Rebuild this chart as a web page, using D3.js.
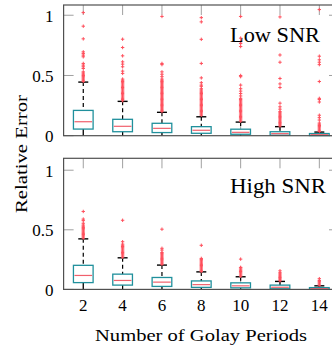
<!DOCTYPE html>
<html>
<head>
<meta charset="utf-8">
<script src="https://cdn.jsdelivr.net/npm/d3@7"></script>
<style>
  body { margin: 0; background: #fff; }
  svg text { font-family: "Liberation Serif" !important; }
</style>
</head>
<body>
<svg width="332" height="352" font-family="Liberation Serif"></svg>
<script>
// x categories (number of Golay periods)
const periods = [2, 4, 6, 8, 10, 12, 14];
const yTicks = [0, 0.5, 1];

// Low SNR box statistics
const lowQ1  = [0.055, 0.033, 0.026, 0.020, 0.012, 0.004, 0.001];
const lowMed = [0.116, 0.078, 0.061, 0.045, 0.028, 0.017, 0.008];
const lowQ3  = [0.210, 0.136, 0.103, 0.075, 0.054, 0.033, 0.018];
const lowHi  = [0.445, 0.285, 0.194, 0.157, 0.113, 0.075, 0.030];
const lowLo  = [0, 0, 0, 0, 0, 0, 0];
const lowOut = [
  [0.45, 0.46, 0.47, 0.48, 0.49, 0.50, 0.51, 0.52, 0.53, 0.558, 0.572, 0.586, 0.60, 0.655, 0.669, 0.683, 0.696, 0.804, 0.909, 1.022],
  [0.29, 0.30, 0.31, 0.32, 0.33, 0.34, 0.35, 0.36, 0.37, 0.38, 0.39, 0.40, 0.41, 0.42, 0.43, 0.44, 0.45, 0.46, 0.47, 0.517, 0.536, 0.572, 0.594, 0.613, 0.663, 0.732, 0.801],
  [0.20, 0.21, 0.22, 0.23, 0.24, 0.25, 0.26, 0.27, 0.28, 0.29, 0.30, 0.31, 0.32, 0.33, 0.34, 0.35, 0.36, 0.37, 0.38, 0.39, 0.40, 0.41, 0.42, 0.43, 0.44, 0.45, 0.46, 0.47, 0.49, 0.51, 0.53, 0.59, 0.60, 0.99],
  [0.17, 0.18, 0.19, 0.20, 0.21, 0.22, 0.23, 0.24, 0.25, 0.26, 0.27, 0.28, 0.29, 0.30, 0.31, 0.32, 0.33, 0.34, 0.35, 0.36, 0.37, 0.38, 0.39, 0.41, 0.42, 0.44, 0.48, 0.60, 0.80, 0.945, 0.98],
  [0.12, 0.13, 0.14, 0.15, 0.16, 0.17, 0.18, 0.19, 0.20, 0.21, 0.22, 0.23, 0.24, 0.25, 0.26, 0.27, 0.28, 0.29, 0.30, 0.31, 0.33, 0.35, 0.37, 0.39, 0.42, 0.49, 0.50, 0.74, 0.765, 0.78, 0.81, 0.99],
  [0.08, 0.09, 0.10, 0.11, 0.12, 0.13, 0.14, 0.15, 0.16, 0.17, 0.18, 0.19, 0.20, 0.22, 0.24, 0.27, 0.40, 0.43, 0.475, 0.61, 0.67, 0.986],
  [0.035, 0.045, 0.055, 0.065, 0.075, 0.085, 0.095, 0.105, 0.13, 0.15, 0.17, 0.28, 0.30, 0.31, 0.45, 0.59, 0.61, 0.63, 0.66, 1.047]
];

// High SNR box statistics
const highQ1  = [0.057, 0.036, 0.025, 0.017, 0.013, 0.005, 0.001];
const highMed = [0.117, 0.075, 0.061, 0.040, 0.030, 0.018, 0.006];
const highQ3  = [0.202, 0.128, 0.100, 0.071, 0.055, 0.036, 0.015];
const highHi  = [0.424, 0.265, 0.204, 0.147, 0.106, 0.067, 0.030];
const highLo  = [0, 0, 0, 0, 0, 0, 0];
const highOut = [
  [0.43, 0.44, 0.45, 0.46, 0.47, 0.48, 0.49, 0.50, 0.51, 0.52, 0.53, 0.54, 0.555, 0.577, 0.59, 0.654],
  [0.27, 0.28, 0.29, 0.30, 0.31, 0.32, 0.33, 0.34, 0.35, 0.36, 0.37, 0.38, 0.40, 0.58],
  [0.21, 0.22, 0.23, 0.24, 0.25, 0.26, 0.27, 0.28, 0.29, 0.30, 0.31, 0.33, 0.345, 0.505],
  [0.15, 0.16, 0.17, 0.18, 0.19, 0.20, 0.21, 0.22, 0.23, 0.24, 0.25, 0.26, 0.37],
  [0.11, 0.12, 0.13, 0.14, 0.15, 0.16, 0.17, 0.18, 0.185, 0.254],
  [0.072, 0.08, 0.09, 0.10, 0.11, 0.12, 0.13, 0.14, 0.156],
  [0.035, 0.045, 0.055, 0.065, 0.075, 0.09]
];

const panelNames = ["Low SNR", "High SNR"];
const xTitle = "Number of Golay Periods";
const yTitle = "Relative Error";

const BOX = "#20909c", MED = "#f0606c", OUT = "#ff4f5c";
const FRAME = "#505050", TICK = "#a0a0a0";
const FONT = '"Liberation Serif"';

const svg = d3.select("svg");
const x = d3.scaleLinear().domain([1, 15]).range([63.6, 339]);

// stretch a text node to a given width
function fit(sel, w) {
  sel.attr("textLength", w).attr("lengthAdjust", "spacingAndGlyphs");
}

function panel(top, bottom, ymax, q1, med, q3, hi, lo, out, name, nameW, nameY, showX) {
  const y = d3.scaleLinear().domain([0, ymax]).range([bottom, top]);
  const g = svg.append("g");

  // ticks, inward on all four sides
  const tl = 10;
  g.selectAll(".xt").data(periods).enter().append("path")
    .attr("d", d => `M${x(d)},${top}v${tl}M${x(d)},${bottom}v${-tl}`)
    .attr("stroke", TICK).attr("stroke-width", 1);
  g.selectAll(".yt").data(yTicks).enter().append("path")
    .attr("d", d => `M${x(1)},${y(d)}h${tl}M${x(15)},${y(d)}h${-tl}`)
    .attr("stroke", TICK).attr("stroke-width", 1);

  const idx = d3.range(periods.length);
  const hw = x(1.5) - x(1);

  // whiskers
  g.selectAll(".wu").data(idx).enter().append("line")
    .attr("x1", i => x(periods[i])).attr("x2", i => x(periods[i]))
    .attr("y1", i => y(hi[i])).attr("y2", i => y(q3[i]))
    .attr("stroke", "#000").attr("stroke-width", 1.2).attr("stroke-dasharray", "4,3");
  g.selectAll(".wl").data(idx).enter().append("line")
    .attr("x1", i => x(periods[i])).attr("x2", i => x(periods[i]))
    .attr("y1", i => y(q1[i])).attr("y2", i => y(lo[i]))
    .attr("stroke", "#000").attr("stroke-width", 1.2);
  g.selectAll(".cap").data(idx).enter().append("line")
    .attr("x1", i => x(periods[i]) - 5).attr("x2", i => x(periods[i]) + 5)
    .attr("y1", i => y(hi[i])).attr("y2", i => y(hi[i]))
    .attr("stroke", "#000").attr("stroke-width", 1.4);

  // boxes
  g.selectAll(".box").data(idx).enter().append("rect")
    .attr("x", i => x(periods[i]) - hw).attr("width", 2 * hw)
    .attr("y", i => y(q3[i])).attr("height", i => y(q1[i]) - y(q3[i]))
    .attr("fill", "#fff").attr("stroke", BOX).attr("stroke-width", 1.3);
  g.selectAll(".med").data(idx).enter().append("line")
    .attr("x1", i => x(periods[i]) - hw + 1).attr("x2", i => x(periods[i]) + hw - 1)
    .attr("y1", i => y(med[i])).attr("y2", i => y(med[i]))
    .attr("stroke", MED).attr("stroke-width", 1.2);

  // outliers as small plus marks
  const pts = [];
  out.forEach((vs, i) => vs.forEach(v => pts.push([periods[i], v])));
  g.selectAll(".o").data(pts).enter().append("path")
    .attr("d", d => `M${x(d[0]) - 1.7},${y(d[1])}h3.4M${x(d[0])},${y(d[1]) - 1.7}v3.4`)
    .attr("stroke", OUT).attr("stroke-width", 1);

  // frame
  g.append("rect").attr("x", x(1)).attr("y", top)
    .attr("width", x(15) - x(1)).attr("height", bottom - top)
    .attr("fill", "none").attr("stroke", FRAME).attr("stroke-width", 1.2);

  // y tick labels
  g.selectAll(".yl").data(yTicks).enter().append("text")
    .attr("x", 53.5).attr("y", d => y(d) + 6.3)
    .attr("text-anchor", "end").style("font-family", FONT).attr("font-size", 17)
    .text(d => String(d));

  if (showX) {
    g.selectAll(".xl").data(periods).enter().append("text")
      .attr("x", d => x(d)).attr("y", bottom + 21.5)
      .attr("text-anchor", "middle").style("font-family", FONT).attr("font-size", 17)
      .text(d => d);
  }

  g.append("text").attr("x", 230).attr("y", nameY)
    .style("font-family", FONT).attr("font-size", 21).text(name).call(fit, nameW);
}

panel(5, 135.7, 1.085, lowQ1, lowMed, lowQ3, lowHi, lowLo, lowOut, panelNames[0], 90, 42, false);
panel(158.3, 289.4, 1.1, highQ1, highMed, highQ3, highHi, highLo, highOut, panelNames[1], 96, 193, true);

svg.append("text").attr("x", 201).attr("y", 341)
  .attr("text-anchor", "middle").style("font-family", FONT).attr("font-size", 17.5)
  .text(xTitle).call(fit, 212);

svg.append("text").attr("transform", "translate(26.5,154) rotate(-90)")
  .attr("text-anchor", "middle").style("font-family", FONT).attr("font-size", 17.5)
  .text(yTitle).call(fit, 118);
</script>
</body>
</html>
